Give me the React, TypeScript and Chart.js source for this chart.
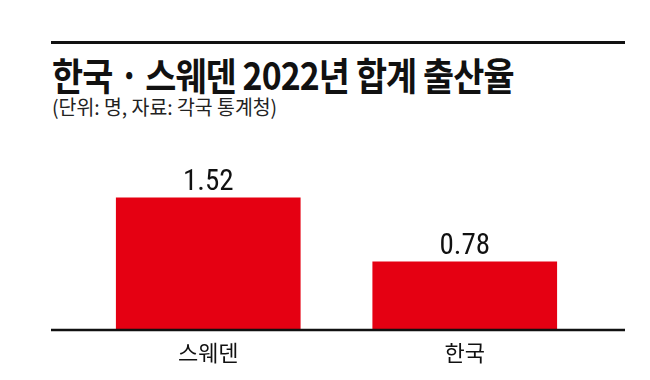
import { useEffect, useRef } from "react";
import { Chart, registerables } from "chart.js";

Chart.register(...registerables);

const categories = ["스웨덴", "한국"];
const values = [1.52, 0.78];
const valueLabels = ["1.52", "0.78"];
const titleText = "한국 · 스웨덴 2022년 합계 출산율";
const subtitleText = "(단위: 명, 자료: 각국 통계청)";

const BAR_COLOR = "#e50012";
const INK = "#111111";
const KR_FONT = "'Noto Sans CJK KR', 'Noto Sans', sans-serif";

const decorPlugin = {
  id: "decor",
  afterDatasetsDraw(chart: any) {
    const { ctx, chartArea } = chart;
    ctx.save();
    // baseline
    ctx.strokeStyle = INK;
    ctx.lineWidth = 2.5;
    ctx.beginPath();
    ctx.moveTo(chartArea.left - 29, chartArea.bottom + 1);
    ctx.lineTo(chartArea.right + 32, chartArea.bottom + 1);
    ctx.stroke();
    // value labels
    const meta = chart.getDatasetMeta(0);
    ctx.fillStyle = INK;
    ctx.font = "400 29px 'Liberation Sans Narrow', 'Roboto Condensed', Roboto, sans-serif";
    ctx.textAlign = "center";
    ctx.textBaseline = "alphabetic";
    meta.data.forEach((bar: any, i: number) => {
      ctx.fillText(valueLabels[i], bar.x, bar.y - 8);
    });
    ctx.restore();
  },
};

export default function App() {
  const canvasRef = useRef<HTMLCanvasElement | null>(null);

  useEffect(() => {
    if (!canvasRef.current) return;
    const chart = new Chart(canvasRef.current, {
      type: "bar",
      data: {
        labels: categories,
        datasets: [
          {
            data: values,
            backgroundColor: BAR_COLOR,
            borderWidth: 0,
            barPercentage: 0.72,
            categoryPercentage: 1,
          },
        ],
      },
      options: {
        responsive: false,
        animation: false,
        layout: { padding: { left: 80, right: 57, top: 156, bottom: 4.6 } },
        plugins: {
          legend: { display: false },
          tooltip: { enabled: false },
          title: { display: false },
        },
        scales: {
          y: { display: false, min: 0, max: 2 },
          x: {
            grid: { display: false, drawTicks: false },
            border: { display: false },
            ticks: {
              color: INK,
              padding: 10,
              font: { family: KR_FONT, size: 22 },
            },
          },
        },
      },
      plugins: [decorPlugin],
    });
    return () => chart.destroy();
  }, []);

  return (
    <div
      style={{
        position: "fixed",
        left: 0,
        top: 0,
        width: 650,
        height: 380,
        background: "#ffffff",
        overflow: "hidden",
      }}
    >
      <div
        style={{
          position: "absolute",
          left: 51,
          top: 41,
          width: 574,
          height: 3,
          background: INK,
        }}
      />
      <div
        style={{
          position: "absolute",
          left: 52,
          top: 52,
          fontFamily: KR_FONT,
          fontWeight: 700,
          fontSize: 38,
          lineHeight: "44px",
          color: INK,
          whiteSpace: "nowrap",
          transform: "scaleX(0.89)",
          transformOrigin: "left top",
          letterSpacing: -1,
        }}
      >
        {titleText}
      </div>
      <div
        style={{
          position: "absolute",
          left: 52,
          top: 94,
          fontFamily: KR_FONT,
          fontWeight: 400,
          fontSize: 20,
          lineHeight: "25px",
          color: "#222222",
          whiteSpace: "nowrap",
          transform: "scaleX(0.97)",
          transformOrigin: "left top",
        }}
      >
        {subtitleText}
      </div>
      <canvas
        ref={canvasRef}
        width={650}
        height={380}
        style={{ position: "absolute", left: 0, top: 0, width: 650, height: 380 }}
      />
    </div>
  );
}
